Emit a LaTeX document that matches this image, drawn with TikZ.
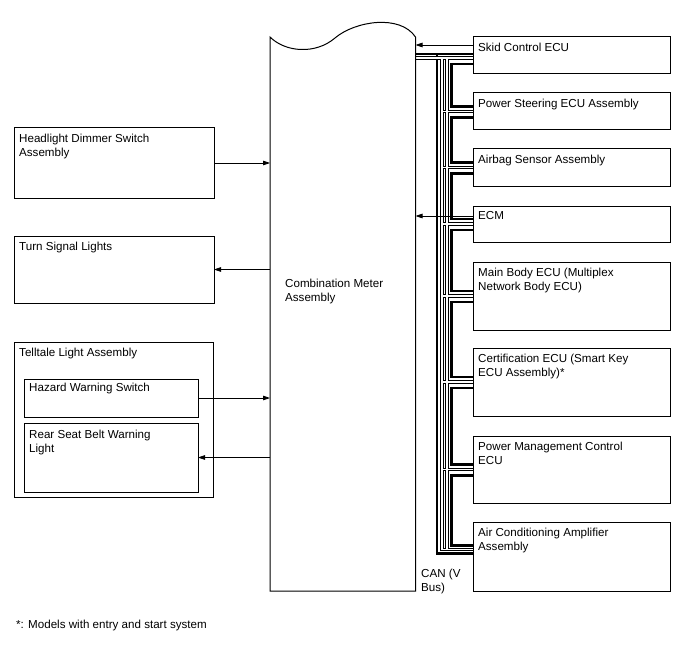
\documentclass[tikz,border=0pt]{standalone}
\usepackage{fontspec}
\setmainfont{Liberation Sans}
\usetikzlibrary{arrows.meta,backgrounds}
\begin{document}
\begin{tikzpicture}[x=1pt,y=-1pt,every node/.style={font=\fontsize{11.6}{14.2}\selectfont},
  box/.style={draw,line width=1pt,anchor=north west,inner sep=0pt,outer sep=0pt},
  txt/.style={anchor=north west,align=left,inner xsep=5pt,inner ysep=5.5pt},
  sig/.style={line width=0.8pt,-{Triangle[length=7pt,width=4.6pt]}},
  canT/.style={line width=2.6pt}]
\useasboundingbox (0,0) rectangle (688,658);
% combination meter, torn top edge
\node[box,draw=none,minimum width=145.5,minimum height=554] (meter) at (270,37) {};
\draw[line width=1pt] (meter.north west) .. controls (285,52) and (315,55) .. (335,38) .. controls (355,21) and (400,14) .. (meter.north east) -- (meter.south east) -- (meter.south west) -- cycle;
\node[anchor=north west,align=left,inner sep=0pt] (meter-t) at (285,279) {Combination Meter\\Assembly};
% left side
\node[box,minimum width=200,minimum height=70] (hds) at (14,128) {};
\node[txt] (hds-t) at (hds.north west) {Headlight Dimmer Switch\\Assembly};
\node[box,minimum width=200,minimum height=67] (tsl) at (14,236) {};
\node[txt] (tsl-t) at (tsl.north west) {Turn Signal Lights};
\node[box,minimum width=199,minimum height=155] (tla) at (14,342) {};
\node[txt] (tla-t) at (tla.north west) {Telltale Light Assembly};
\node[box,minimum width=174,minimum height=38] (hws) at (24,379) {};
\node[txt,inner ysep=4pt] (hws-t) at (hws.north west) {Hazard Warning Switch};
\node[box,minimum width=174,minimum height=69] (rsb) at (24,423) {};
\node[txt,inner ysep=6.5pt] (rsb-t) at (rsb.north west) {Rear Seat Belt Warning\\Light};
% right side, ECUs on the CAN bus
\foreach \n/\y/\h/\lbl in {skid/37/37/{Skid Control ECU},ps/93/37/{Power Steering ECU Assembly},ab/149/37/{Airbag Sensor Assembly},ecm/206/36/{ECM},mb/262/68/{Main Body ECU (Multiplex\\Network Body ECU)},cert/348/68/{Certification ECU (Smart Key\\ECU Assembly)*},pm/436/67/{Power Management Control\\ECU},ac/522/69/{Air Conditioning Amplifier\\Assembly}}
{\node[box,minimum width=197,minimum height=\h] (\n) at (473,\y) {};
 \node[txt] (\n-t) at (\n.north west) {\lbl};}
\coordinate (busT) at (437,54); \coordinate (busD) at (441.8,58); \coordinate (loopD) at (446.8,58); \coordinate (loopT) at (451.5,64);
\coordinate (acT) at ([yshift=3pt]ac.west); \coordinate (acD) at ([yshift=7pt]ac.west);
\begin{pgfonlayer}{background}
\draw[canT] (busT -| meter.east) -- (busT -| skid.west) (busT) |- (acT);
\foreach \a/\b/\s/\e in {skid/ps/8.5/5,ps/ab/6/5,ab/ecm/6/5,ecm/mb/6/5,mb/cert/6/5,cert/pm/6/5,pm/ac/6/11}
{\path ([yshift=-\s]\a.west) coordinate (o) ([yshift=\e]\b.west) coordinate (i);
 \draw[canT] (o) -- (o -| loopT) -- (i -| loopT) -- (i);}
\foreach \w/\c in {3.4pt/black,1.4pt/white}
{\draw[line width=\w,\c] (busD -| meter.east) -- (busD -| skid.west) (busD) |- (acD) (loopD) -- (loopD |- acD);
 \foreach \n in {ps,ab,ecm,mb,cert,pm} {\draw[line width=\w,\c] (\n.west) -- (\n.west -| busD);}}
\end{pgfonlayer}
\node[anchor=north west,align=left,inner sep=0pt] (can) at (421,568.5) {CAN (V\\Bus)};
% signals
\draw[sig] (hds.east) -- (hds.east -| meter.west);
\draw[sig] (tsl.east -| meter.west) -- (tsl.east);
\draw[sig] (hws.east) -- (hws.east -| meter.west);
\draw[sig] (rsb.east -| meter.west) -- (rsb.east);
\path ([yshift=-8pt]skid.north west) coordinate (sk) ([yshift=-10pt]ecm.north west) coordinate (ec);
\draw[sig] (sk) -- (sk -| meter.east);
\draw[sig] (ec) -- (ec -| meter.east);
\node[anchor=base west,inner sep=0pt] (note) at (16,628) {*: Models with entry and start system};
\end{tikzpicture}
\end{document}
